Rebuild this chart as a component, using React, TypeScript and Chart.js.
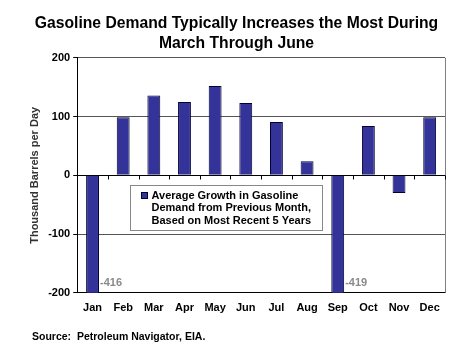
import React, { useEffect, useRef } from "react";
import { Chart, registerables } from "chart.js";

Chart.register(...registerables);

const months = ["Jan", "Feb", "Mar", "Apr", "May", "Jun", "Jul", "Aug", "Sep", "Oct", "Nov", "Dec"];
const growth = [-416, 99, 136, 125, 152, 123, 91, 24, -419, 84, -30, 99];
const yMin = -200;
const yMax = 200;
const yStep = 100;
const titleLines = ["Gasoline Demand Typically Increases the Most During", "March Through June"];
const yAxisTitle = "Thousand Barrels per Day";
const legendLines = [
  "Average Growth in Gasoline",
  "Demand from Previous Month,",
  "Based on Most Recent 5 Years",
];
const sourceText = "Source:  Petroleum Navigator, EIA.";

const FONT = "'Liberation Sans', Arial, sans-serif";
const BAR_FILL = "#333399";

const extras = {
  id: "extras",
  afterDatasetsDraw(chart: any) {
    const { ctx, chartArea, scales } = chart;
    const { left, right, top, bottom } = chartArea;
    const y = scales.y;
    ctx.save();
    // right border
    ctx.strokeStyle = "#808080";
    ctx.lineWidth = 1;
    ctx.beginPath();
    ctx.moveTo(Math.round(right) + 0.5, top);
    ctx.lineTo(Math.round(right) + 0.5, bottom);
    ctx.stroke();
    // tick marks on the zero line
    const y0 = Math.round(y.getPixelForValue(0)) + 0.5;
    ctx.strokeStyle = "#000";
    const cw = (right - left) / months.length;
    ctx.beginPath();
    for (let i = 0; i <= months.length; i++) {
      const xx = Math.round(left + i * cw) + 0.5;
      ctx.moveTo(xx, y0);
      ctx.lineTo(xx, y0 + 4);
    }
    ctx.stroke();
    // labels for clipped bars
    const meta = chart.getDatasetMeta(0);
    ctx.font = `bold 11px ${FONT}`;
    ctx.fillStyle = "#8a8a8a";
    ctx.textBaseline = "middle";
    ctx.textAlign = "left";
    growth.forEach((v, i) => {
      if (v < y.min) {
        const bar = meta.data[i] as any;
        ctx.fillText(String(v), bar.x + bar.width / 2 + 1, bottom - 10);
      }
    });
    // legend box
    const w = right - left;
    const h = bottom - top;
    const lx = Math.round(left + w * (53 / 368)) + 0.5;
    const ly = Math.round(top + h * (127 / 234)) + 0.5;
    const lw = 192;
    const lh = 45;
    ctx.fillStyle = "#ffffff";
    ctx.fillRect(lx, ly, lw, lh);
    ctx.strokeStyle = "#888";
    ctx.strokeRect(lx, ly, lw, lh);
    ctx.fillStyle = BAR_FILL;
    ctx.fillRect(lx + 11, ly + 7, 6, 6);
    ctx.strokeStyle = "#000033";
    ctx.strokeRect(lx + 11, ly + 7, 6, 6);
    ctx.fillStyle = "#000";
    ctx.font = `bold 11px ${FONT}`;
    legendLines.forEach((t, i) => {
      ctx.fillText(t, lx + 21, ly + 10 + i * 12.5);
    });
    ctx.restore();
  },
  afterDraw(chart: any) {
    const { ctx } = chart;
    ctx.save();
    ctx.font = `bold 10.5px ${FONT}`;
    ctx.fillStyle = "#000";
    ctx.textBaseline = "middle";
    ctx.textAlign = "left";
    ctx.fillText(sourceText, 32, 337);
    ctx.restore();
  },
};

export default function App() {
  const ref = useRef<HTMLCanvasElement | null>(null);
  useEffect(() => {
    if (!ref.current) return;
    const chart = new Chart(ref.current, {
      type: "bar",
      data: {
        labels: months,
        datasets: [
          {
            label: legendLines.join(" "),
            data: growth,
            backgroundColor: BAR_FILL,
            borderColor: "#000033",
            borderWidth: 1,
            barPercentage: 0.42,
            categoryPercentage: 1,
          },
        ],
      },
      options: {
        animation: false,
        responsive: true,
        maintainAspectRatio: false,
        layout: { padding: { left: 28, right: 25, top: 0, bottom: 29 } },
        plugins: {
          legend: { display: false },
          tooltip: { enabled: false },
          title: {
            display: true,
            text: titleLines,
            color: "#000",
            font: { family: FONT, size: 15.7, weight: "bold", lineHeight: 1.27 },
            padding: { top: 14, bottom: 4 },
          },
        },
        scales: {
          x: {
            grid: { display: false, drawTicks: false },
            border: { display: true, color: "#000", width: 1 },
            ticks: {
              color: "#000",
              font: { family: FONT, size: 11, weight: "bold" },
              padding: 9,
              maxRotation: 0,
            },
          },
          y: {
            min: yMin,
            max: yMax,
            ticks: {
              stepSize: yStep,
              color: "#000",
              font: { family: FONT, size: 11, weight: "bold" },
              padding: 3,
            },
            grid: {
              color: (c: any) => (c.tick && c.tick.value === 0 ? "#000" : "#555"),
              tickColor: "#000",
              tickLength: 4,
              lineWidth: 1,
            },
            border: { display: true, color: "#000", width: 1 },
            title: {
              display: true,
              text: yAxisTitle,
              color: "#333",
              font: { family: FONT, size: 11, weight: "bold" },
              padding: { top: 0, bottom: 4 },
            },
          },
        },
      },
      plugins: [extras],
    });
    return () => chart.destroy();
  }, []);
  return (
    <div style={{ position: "fixed", left: 0, top: 0, width: 470, height: 353, background: "#fff" }}>
      <canvas ref={ref} />
    </div>
  );
}
